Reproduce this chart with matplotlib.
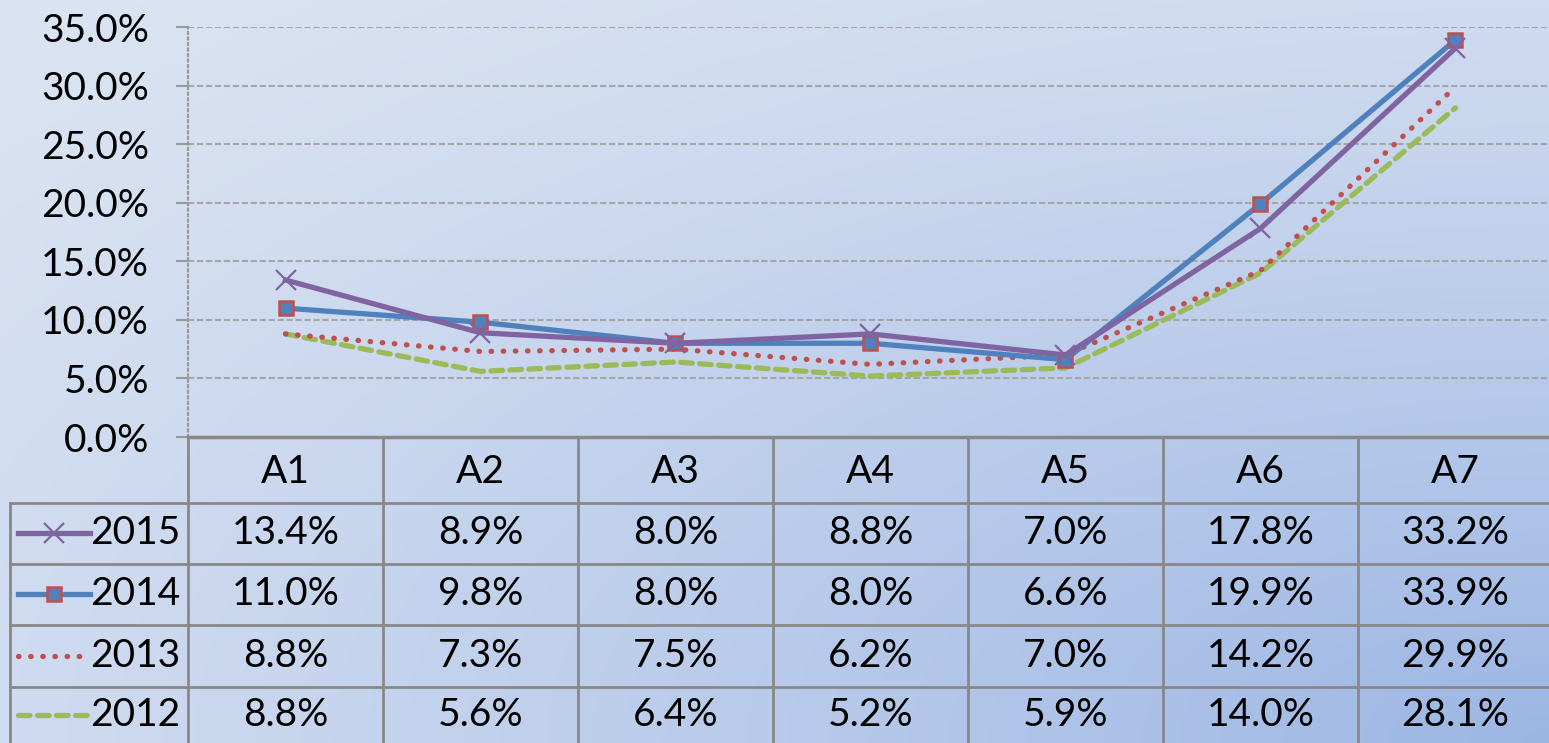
import numpy as np
import matplotlib as mpl
mpl.use('Agg')
import matplotlib.pyplot as plt

cats = ['A1', 'A2', 'A3', 'A4', 'A5', 'A6', 'A7']
years = ['2015', '2014', '2013', '2012']
v2015 = [13.4, 8.9, 8.0, 8.8, 7.0, 17.8, 33.2]
v2014 = [11.0, 9.8, 8.0, 8.0, 6.6, 19.9, 33.9]
v2013 = [8.8, 7.3, 7.5, 6.2, 7.0, 14.2, 29.9]
v2012 = [8.8, 5.6, 6.4, 5.2, 5.9, 14.0, 28.1]
yticks = [0, 5, 10, 15, 20, 25, 30, 35]

W, H = 1549, 743
plt.rcParams['font.family'] = ['Lato', 'DejaVu Sans']
FS = 28
GRID = '#888888'

fig = plt.figure(figsize=(W / 100, H / 100), dpi=100)

# background gradient, darkest towards bottom right
bg = fig.add_axes([0, 0, 1, 1])
xx, yy = np.meshgrid(np.linspace(0, 1, 400), np.linspace(0, 1, 200))
d = np.sqrt((1 - xx) ** 2 + (1 - yy) ** 2)
t = np.clip(1 - d / 1.35, 0, 1) ** 1.3
t = t[..., None]
c0 = np.array([218, 227, 242]) / 255
c1 = np.array([156, 182, 228]) / 255
bg.imshow(c0 * (1 - t) + c1 * t, extent=[0, 1, 0, 1], aspect='auto', origin='upper')
bg.axis('off')

left = 188 / W
colw = 195 / W
ax = fig.add_axes([left, (H - 437) / H, 7 * colw, (437 - 27) / H])
ax.patch.set_alpha(0)
x = np.arange(len(cats))

styles = [
    (v2015, dict(color='#8064A2', lw=3.8, marker='x', ms=15, mew=1.6, mec='#8064A2')),
    (v2014, dict(color='#4F81BD', lw=3.8, marker='s', ms=10, mfc='#4F81BD', mec='#C0504D', mew=1.8)),
    (v2013, dict(color='#C0504D', lw=3.8, ls=(0, (0.1, 2.2)), dash_capstyle='round')),
    (v2012, dict(color='#9BBB59', lw=3.8, ls=(0, (2.2, 1.4)), dash_capstyle='round')),
]
for vals, st in styles[::-1]:
    ax.plot(x, vals, clip_on=False, **st)

ax.set_xlim(-0.5, 6.5)
ax.set_ylim(0, 35)
ax.set_yticks(yticks)
ax.set_yticklabels(['%.1f%%' % v for v in yticks], fontsize=FS)
ax.set_xticks([])
ax.yaxis.grid(True, color='#A6A6A6', ls=(0, (3, 1.3)), lw=1.5)
ax.set_axisbelow(True)
for s in ['top', 'right', 'bottom']:
    ax.spines[s].set_visible(False)
ax.spines['left'].set_color('#999999')
ax.spines['left'].set_linestyle(':')
ax.spines['left'].set_linewidth(1.5)
ax.tick_params(axis='y', length=9, width=1.5, color='#999999', pad=19)
for tl in ax.yaxis.get_ticklines():
    tl.set_linestyle(':')

# data table
tab = fig.add_axes([left, 0, 7 * colw, 306 / H])
tab.set_xlim(-0.5, 6.5)
tab.set_ylim(743, 437)
tab.axis('off')
rows = [437, 503, 564, 625, 687, 743]
lx = -0.5 - 178 / 195
tab.plot([-0.5, 6.6], [437, 437], color=GRID, lw=2.5, clip_on=False)
for r in rows[1:-1]:
    tab.plot([lx, 6.6], [r, r], color=GRID, lw=2, clip_on=False)
for i in range(8):
    tab.plot([i - 0.5, i - 0.5], [437, 743], color=GRID, lw=2, clip_on=False)
tab.plot([lx, lx], [503, 743], color=GRID, lw=2, clip_on=False)

for i, c in enumerate(cats):
    tab.text(i, 472, c, ha='center', va='center', fontsize=FS)
for j, (vals, st) in enumerate(styles):
    yc = (rows[j + 1] + rows[j + 2]) / 2
    for i, v in enumerate(vals):
        tab.text(i, yc, '%.1f%%' % v, ha='center', va='center', fontsize=FS)
    tab.text(-0.5 - 8 / 195, yc, years[j], ha='right', va='center', fontsize=FS, clip_on=False)
    xs = [-0.5 - 170 / 195, -0.5 - 98 / 195]
    tab.plot(xs, [yc, yc], clip_on=False, **{k: v for k, v in st.items() if k not in ('marker',)})
    if 'marker' in st:
        tab.plot([np.mean(xs)], [yc], ls='none', clip_on=False,
                 **{k: v for k, v in st.items() if k not in ('lw', 'ls', 'color', 'dash_capstyle')})

fig.savefig('out.png', dpi=100)
